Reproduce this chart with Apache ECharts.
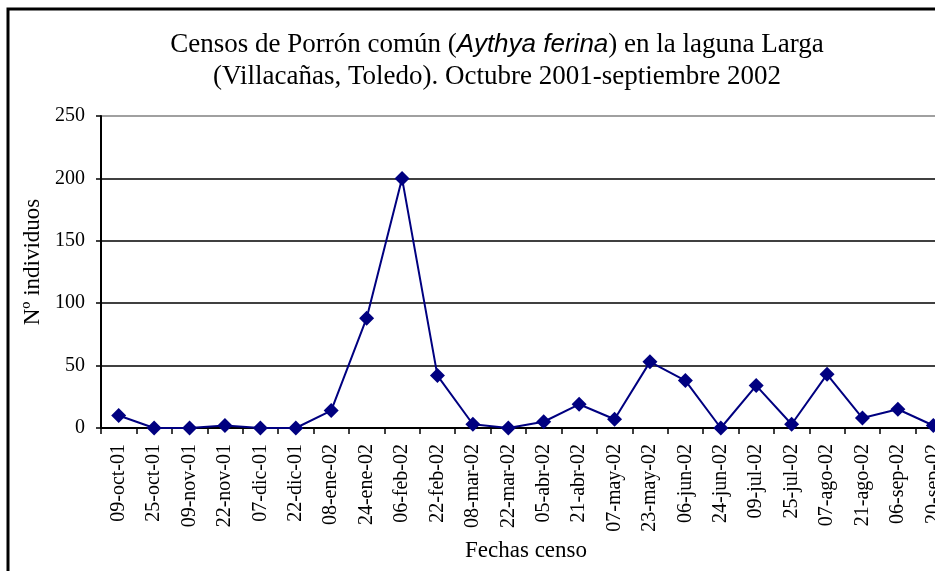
<!DOCTYPE html>
<html>
<head>
<meta charset="utf-8">
<script src="https://cdn.jsdelivr.net/npm/echarts@6/dist/echarts.min.js"></script>
<style>
  html, body { margin: 0; padding: 0; background: #fff; overflow: hidden; }
  #chart { width: 960px; height: 571px; }
</style>
</head>
<body>
<div id="chart"></div>
<script>
// census dates
var fechas = ['09-oct-01', '25-oct-01', '09-nov-01', '22-nov-01', '07-dic-01', '22-dic-01',
    '08-ene-02', '24-ene-02', '06-feb-02', '22-feb-02', '08-mar-02', '22-mar-02',
    '05-abr-02', '21-abr-02', '07-may-02', '23-may-02', '06-jun-02', '24-jun-02',
    '09-jul-02', '25-jul-02', '07-ago-02', '21-ago-02', '06-sep-02', '20-sep-02'];
// number of birds counted
var individuos = [10, 0, 0, 2, 0, 0, 14, 88, 200, 42, 3, 0, 5, 19, 7, 53, 38, 0, 34, 3, 43, 8, 15, 2];
var yTicks = [0, 50, 100, 150, 200, 250];

var serif = 'Liberation Serif';
var chart = echarts.init(document.getElementById('chart'));

var option = {
    backgroundColor: '#fff',
    animation: false,
    title: {
        left: 497,
        top: 29,
        padding: 0,
        textAlign: 'center',
        text: '{a|Censos de Porrón común (}{b|Aythya ferina}{a|) en la laguna Larga}\n{a|(Villacañas, Toledo). Octubre 2001-septiembre 2002}',
        textStyle: {
            fontWeight: 'normal',
            rich: {
                a: { fontFamily: serif, fontSize: 27, fontWeight: 'normal', color: '#000', lineHeight: 32 },
                b: { fontFamily: 'Liberation Sans', fontStyle: 'italic', fontWeight: 'normal', fontSize: 26, color: '#000', lineHeight: 32 }
            }
        }
    },
    // outer frame of the chart area
    graphic: [{
        type: 'rect',
        shape: { x: 8, y: 9, width: 1200, height: 900 },
        style: { fill: 'none', stroke: '#000', lineWidth: 3 }
    }],
    grid: { left: 101, top: 116, width: 850, height: 312 },
    xAxis: {
        type: 'category',
        data: fechas,
        boundaryGap: true,
        name: 'Fechas censo',
        nameLocation: 'middle',
        nameGap: 111,
        nameTextStyle: { fontFamily: serif, fontSize: 23, color: '#000' },
        axisLine: { lineStyle: { color: '#000', width: 2 } },
        axisTick: { show: true, interval: 0, length: 6, lineStyle: { color: '#000', width: 1.5 } },
        axisLabel: { interval: 0, rotate: 90, margin: 16, fontFamily: serif, fontSize: 20, color: '#000' }
    },
    yAxis: {
        type: 'value',
        min: yTicks[0],
        max: yTicks[yTicks.length - 1],
        interval: 50,
        name: 'Nº individuos',
        nameLocation: 'middle',
        nameGap: 55,
        nameTextStyle: { fontFamily: serif, fontSize: 23, color: '#000', padding: [0, 0, 0, 20] },
        axisLine: { show: true, lineStyle: { color: '#000', width: 2 } },
        axisTick: { show: true, length: 5, lineStyle: { color: '#000', width: 1.5 } },
        axisLabel: { margin: 16, fontFamily: serif, fontSize: 20, color: '#000' },
        splitLine: {
            show: true,
            lineStyle: { color: ['#000', '#000', '#000', '#000', '#000', '#808080'], width: 1.5 }
        }
    },
    series: [{
        type: 'line',
        data: individuos,
        symbol: 'diamond',
        symbolSize: 15,
        lineStyle: { color: '#000080', width: 2 },
        itemStyle: { color: '#000080' }
    }]
};

chart.setOption(option);
</script>
</body>
</html>
